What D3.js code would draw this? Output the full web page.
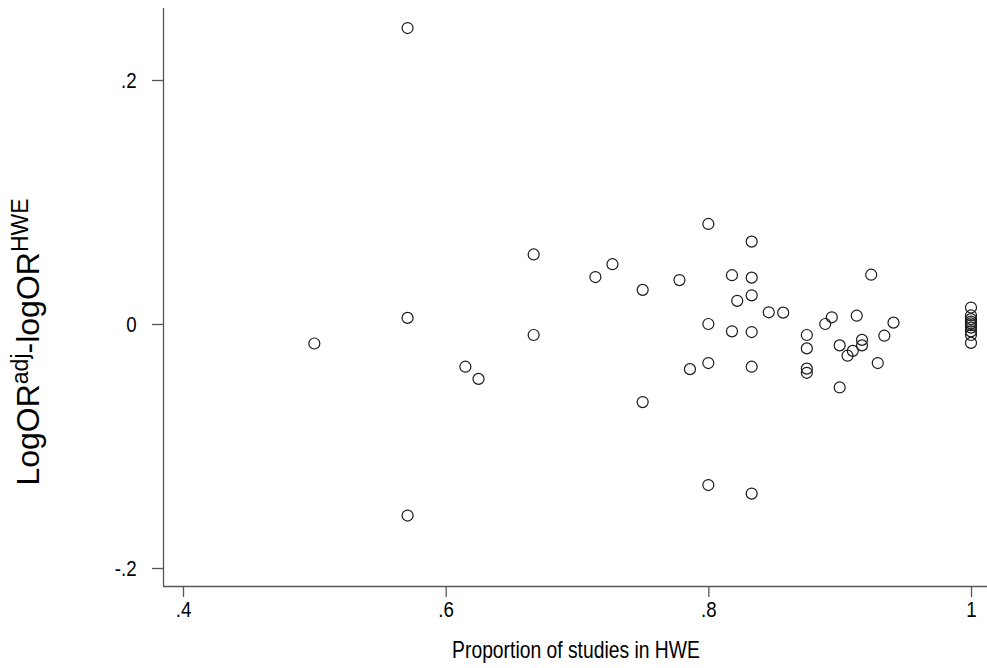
<!DOCTYPE html>
<html>
<head>
<meta charset="utf-8">
<script src="https://cdn.jsdelivr.net/npm/d3@7"></script>
<style>
  body { margin: 0; background: #fff; }
  svg text { font-family: "Liberation Sans", Arial, sans-serif; fill: #000; }
</style>
</head>
<body>
<svg id="chart" width="987" height="668"></svg>
<script>
///////  data ///////

var propHWE = [
    0.5, 0.571, 0.571, 0.571, 0.615, 0.625, 0.667, 0.667, 0.714, 0.727,
    0.75, 0.75, 0.778, 0.786, 0.8, 0.8, 0.8, 0.8, 0.818, 0.818,
    0.822, 0.833, 0.833, 0.833, 0.833, 0.833, 0.833, 0.846, 0.857, 0.875,
    0.875, 0.875, 0.875, 0.889, 0.894, 0.9, 0.9, 0.906, 0.91, 0.913,
    0.917, 0.917, 0.924, 0.929, 0.934, 0.941,
    1, 1, 1, 1, 1, 1, 1, 1, 1, 1
];
var diffLogOR = [
    -0.016, 0.2426, 0.005, -0.157, -0.035, -0.045, 0.057, -0.009, 0.0385, 0.049,
    0.028, -0.064, 0.036, -0.037, 0.082, 0.0, -0.032, -0.132, 0.040, -0.006,
    0.019, 0.0675, 0.038, 0.0235, -0.0066, -0.035, -0.139, 0.0096, 0.0093, -0.009,
    -0.020, -0.0366, -0.040, 0.0, 0.0055, -0.0175, -0.052, -0.026, -0.022, 0.0068,
    -0.013, -0.0175, 0.0404, -0.032, -0.0096, 0.0011,
    0.0135, 0.007, 0.004, 0.002, 0.0005, -0.001, -0.003, -0.006, -0.009, -0.0155
];
var xTicks = [0.4, 0.6, 0.8, 1];
var yTicks = [-0.2, 0, 0.2];

/////// scatter ///////

var svg = d3.select("#chart");
var plotL = 163, plotT = 8, plotR = 987, plotB = 586;

var x = d3.scaleLinear().domain([0.4, 1]).range([183, 971]);
var y = d3.scaleLinear().domain([-0.2, 0.2]).range([568, 80]);

// stata style labels: .2, -.2, 0, 1
function fmt(d) {
    if (d === 0) return "0";
    if (d === 1) return "1";
    return d3.format(".1f")(d).replace("\u2212", "-").replace("0.", ".");
}

var xAxis = svg.append("g")
    .attr("transform", "translate(0," + plotB + ")")
    .call(d3.axisBottom(x).tickValues(xTicks).tickSize(11).tickPadding(4).tickFormat(fmt));
xAxis.select(".domain").attr("d", "M" + plotL + ",0.5H" + plotR);

var yAxis = svg.append("g")
    .attr("transform", "translate(" + plotL + ",0)")
    .call(d3.axisLeft(y).tickValues(yTicks).tickSize(11).tickPadding(20).tickFormat(fmt));
yAxis.select(".domain").attr("d", "M0.5," + plotT + "V" + plotB);

svg.selectAll(".domain, .tick line").attr("stroke", "#555").attr("stroke-width", 1.3);
// the picture is a little squeezed sideways, so the glyphs are narrowed
svg.selectAll(".tick text")
    .attr("font-size", "22px")
    .attr("fill", "#000")
    .attr("transform", "scale(0.85,1)")
    .style("font-family", "'Liberation Sans', Arial, sans-serif");

svg.append("g")
    .selectAll("circle")
    .data(propHWE)
    .enter().append("circle")
    .attr("cx", function(d) { return x(d); })
    .attr("cy", function(d, i) { return y(diffLogOR[i]); })
    .attr("r", 5.5)
    .attr("fill", "none")
    .attr("stroke", "#1a1a1a")
    .attr("stroke-width", 1.2);

// axis titles
svg.append("text")
    .attr("transform", "translate(576,658) scale(0.84,1)")
    .attr("text-anchor", "middle")
    .attr("font-size", "23px")
    .text("Proportion of studies in HWE");

var ylab = svg.append("text")
    .attr("transform", "translate(39,342) rotate(-90)")
    .attr("text-anchor", "middle")
    .attr("font-size", "32px");
ylab.append("tspan").text("LogOR");
ylab.append("tspan").attr("font-size", "23px").attr("dy", -11).text("adj");
ylab.append("tspan").attr("dy", 11).text("-logOR");
ylab.append("tspan").attr("font-size", "23px").attr("dy", -11).text("HWE");
</script>
</body>
</html>
